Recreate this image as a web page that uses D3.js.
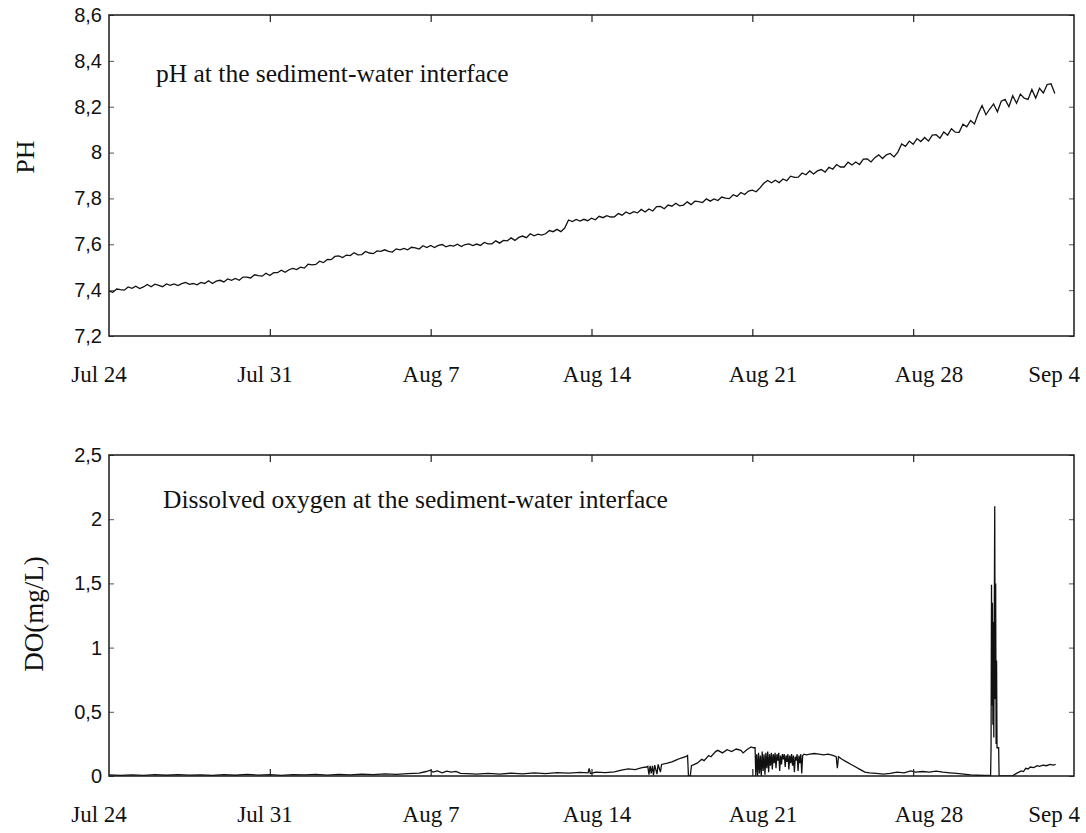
<!DOCTYPE html>
<html>
<head>
<meta charset="utf-8">
<script src="https://cdn.jsdelivr.net/npm/d3@7"></script>
<style>
  body { margin: 0; background: #fff; }
  svg { display: block; background: #fff; }
</style>
</head>
<body>
<svg id="chart" width="1086" height="833"></svg>
<script>
// ---- Data -------------------------------------------------------------
const dateTicks = ["Jul 24", "Jul 31", "Aug 7", "Aug 14", "Aug 21", "Aug 28", "Sep 4"];
const domainStart = "Jul 24";
const domainEnd = "Sep 4";

const phTicks = [7.2, 7.4, 7.6, 7.8, 8.0, 8.2, 8.4, 8.6];
const phTickLabels = ["7,2", "7,4", "7,6", "7,8", "8", "8,2", "8,4", "8,6"];
const doTicks = [0, 0.5, 1, 1.5, 2, 2.5];
const doTickLabels = ["0", "0,5", "1", "1,5", "2", "2,5"];

const phTitle = "pH at the sediment-water interface";
const doTitle = "Dissolved oxygen at the sediment-water interface";
const phAxisTitle = "PH";
const doAxisTitle = "DO(mg/L)";

// pH logged every 4 hours from Jul 24, one row per day
const phStepHours = 4;
const phValues = [
  7.396, 7.391, 7.405, 7.402, 7.400, 7.414,
  7.408, 7.417, 7.407, 7.414, 7.425, 7.415,
  7.426, 7.421, 7.415, 7.427, 7.421, 7.427,
  7.420, 7.428, 7.434, 7.425, 7.429, 7.423,
  7.434, 7.429, 7.441, 7.429, 7.439, 7.443,
  7.436, 7.449, 7.443, 7.451, 7.443, 7.457,
  7.457, 7.453, 7.467, 7.463, 7.461, 7.474,
  7.464, 7.476, 7.476, 7.487, 7.478, 7.489,
  7.495, 7.490, 7.500, 7.496, 7.513, 7.510,
  7.512, 7.526, 7.520, 7.534, 7.533, 7.547,
  7.549, 7.542, 7.553, 7.551, 7.563, 7.554,
  7.555, 7.569, 7.562, 7.559, 7.571, 7.569,
  7.576, 7.569, 7.566, 7.580, 7.576, 7.582,
  7.576, 7.587, 7.584, 7.579, 7.594, 7.586,
  7.595, 7.586, 7.595, 7.599, 7.589, 7.595,
  7.592, 7.600, 7.590, 7.599, 7.602, 7.594,
  7.601, 7.595, 7.608, 7.602, 7.602, 7.615,
  7.605, 7.617, 7.615, 7.628, 7.617, 7.630,
  7.636, 7.629, 7.646, 7.637, 7.644, 7.640,
  7.646, 7.660, 7.655, 7.665, 7.655, 7.671,
  7.706, 7.699, 7.708, 7.701, 7.709, 7.703,
  7.714, 7.707, 7.722, 7.716, 7.725, 7.719,
  7.720, 7.734, 7.727, 7.741, 7.733, 7.742,
  7.737, 7.752, 7.741, 7.754, 7.745, 7.764,
  7.765, 7.755, 7.771, 7.766, 7.779, 7.768,
  7.771, 7.785, 7.773, 7.788, 7.786, 7.782,
  7.798, 7.788, 7.798, 7.791, 7.806, 7.801,
  7.799, 7.816, 7.809, 7.826, 7.817, 7.832,
  7.836, 7.829, 7.846, 7.866, 7.878, 7.868,
  7.879, 7.869, 7.885, 7.877, 7.897, 7.892,
  7.893, 7.911, 7.903, 7.920, 7.907, 7.920,
  7.926, 7.915, 7.936, 7.928, 7.948, 7.937,
  7.937, 7.958, 7.946, 7.959, 7.948, 7.971,
  7.972, 7.959, 7.978, 7.990, 7.974, 7.990,
  7.996, 7.981, 8.002, 8.038, 8.027, 8.050,
  8.036, 8.061, 8.048, 8.066, 8.050, 8.076,
  8.078, 8.063, 8.090, 8.076, 8.104, 8.089,
  8.088, 8.124, 8.112, 8.140, 8.125, 8.170,
  8.205, 8.165, 8.190, 8.212, 8.178, 8.224,
  8.232, 8.200, 8.248, 8.215, 8.255, 8.237,
  8.232, 8.275, 8.238, 8.280, 8.260, 8.297,
  8.300, 8.258
];

// Dissolved oxygen: [days since Jul 24, mg/L]
const doSeries = [
  [0, 0.008], [0.5, 0.004], [1, 0.009], [1.5, 0.005], [2, 0.010], [2.5, 0.006],
  [3, 0.011], [3.5, 0.007], [4, 0.009], [4.5, 0.004], [5, 0.010], [5.5, 0.006],
  [6, 0.012], [6.5, 0.007], [7, 0.010], [7.5, 0.005], [8, 0.011], [8.5, 0.008],
  [9, 0.012], [9.5, 0.007], [10, 0.013], [10.5, 0.009], [11, 0.014], [11.5, 0.010],
  [12, 0.016], [12.5, 0.012], [13, 0.018], [13.5, 0.022], [13.8, 0.035], [14.0, 0.045],
  [14.1, 0.030], [14.3, 0.040], [14.5, 0.025], [14.7, 0.038], [14.9, 0.030], [15.1, 0.036],
  [15.3, 0.020], [15.6, 0.018], [16, 0.015], [16.5, 0.020], [17, 0.014], [17.5, 0.022],
  [18, 0.016], [18.5, 0.024], [19, 0.018], [19.5, 0.026], [20, 0.022], [20.5, 0.028],
  [20.85, 0.024], [20.9, 0.060], [20.95, 0.020], [21.2, 0.030], [21.6, 0.026], [22, 0.032],
  [22.3, 0.045], [22.6, 0.055], [22.9, 0.050], [23.2, 0.065], [23.4, 0.070],
  [23.45, 0.075], [23.5, 0.010], [23.55, 0.080], [23.6, 0.020], [23.65, 0.080], [23.7, 0.005],
  [23.75, 0.085], [23.85, 0.015], [23.9, 0.090], [24.0, 0.030], [24.05, 0.090],
  [24.3, 0.100], [24.5, 0.110], [24.7, 0.125], [24.9, 0.140], [25.1, 0.150], [25.18, 0.160],
  [25.22, 0.0], [25.3, 0.0], [25.35, 0.080],
  [25.6, 0.100], [25.8, 0.130], [25.9, 0.120], [26.1, 0.160], [26.2, 0.150], [26.4, 0.190], [26.5, 0.200],
  [26.7, 0.180], [26.9, 0.205], [27.1, 0.190], [27.3, 0.210], [27.5, 0.200], [27.6, 0.180],
  [27.8, 0.210], [27.95, 0.226], [28.05, 0.220], [28.12, 0.220],
  [28.15, 0.0], [28.19, 0.17], [28.23, 0.0], [28.27, 0.18], [28.31, 0.02], [28.35, 0.16],
  [28.39, 0.0], [28.43, 0.19], [28.47, 0.04], [28.51, 0.17], [28.55, 0.01], [28.59, 0.18],
  [28.63, 0.06], [28.67, 0.19], [28.71, 0.03], [28.75, 0.17], [28.79, 0.08], [28.83, 0.18],
  [28.87, 0.05], [28.91, 0.17], [28.95, 0.10], [28.99, 0.18], [29.03, 0.06], [29.07, 0.17],
  [29.11, 0.12], [29.15, 0.18], [29.19, 0.04], [29.23, 0.16], [29.27, 0.09], [29.31, 0.17],
  [29.35, 0.13], [29.39, 0.17], [29.43, 0.07], [29.47, 0.16], [29.51, 0.11], [29.55, 0.17],
  [29.59, 0.05], [29.63, 0.16], [29.67, 0.10], [29.71, 0.17], [29.75, 0.08], [29.79, 0.16],
  [29.83, 0.03], [29.87, 0.15], [29.91, 0.12], [29.95, 0.17], [29.99, 0.04], [30.03, 0.16],
  [30.07, 0.10], [30.11, 0.17], [30.15, 0.02], [30.19, 0.16], [30.25, 0.17], [30.35, 0.165],
  [30.5, 0.170], [30.7, 0.175], [30.9, 0.170], [31.1, 0.165], [31.3, 0.170], [31.5, 0.160],
  [31.65, 0.150], [31.7, 0.060], [31.75, 0.150],
  [31.9, 0.130], [32.1, 0.110], [32.3, 0.090], [32.5, 0.070], [32.7, 0.050], [32.9, 0.030],
  [33.1, 0.025], [33.4, 0.020], [33.7, 0.015], [34.0, 0.020], [34.3, 0.030], [34.6, 0.025],
  [34.9, 0.040], [35.1, 0.030], [35.4, 0.035], [35.7, 0.030], [36.0, 0.038], [36.3, 0.030],
  [36.6, 0.025], [36.9, 0.020], [37.2, 0.015], [37.5, 0.008], [37.8, 0.006], [38.1, 0.005],
  [38.3, 0.004],
  [38.37, 0.0], [38.39, 0.22], [38.41, 1.49], [38.43, 0.55], [38.45, 1.35], [38.47, 0.40],
  [38.49, 1.20], [38.51, 0.30], [38.55, 2.10], [38.57, 0.60], [38.59, 1.50], [38.61, 0.25],
  [38.63, 0.90], [38.65, 0.22], [38.69, 0.22], [38.72, 0.22], [38.74, 0.0],
  [38.9, 0.0], [39.1, 0.0], [39.3, 0.0], [39.5, 0.020], [39.7, 0.040], [39.8, 0.035],
  [39.9, 0.060], [40.0, 0.055], [40.1, 0.070], [40.25, 0.065], [40.4, 0.080], [40.5, 0.075],
  [40.65, 0.085], [40.8, 0.080], [40.95, 0.090], [41.1, 0.085], [41.2, 0.090]
];

// ---- Layout -----------------------------------------------------------
const W = 1086, H = 833;
const plotLeft = 109, plotRight = 1074;
const panels = [
  { top: 15,  bottom: 336, ticks: phTicks, tickLabels: phTickLabels, title: phTitle,
    axisTitle: phAxisTitle, titleX: 156, titleY: 82, axisTitleX: 34, axisTitleY: 157, axisTitleSize: 26 },
  { top: 455, bottom: 776, ticks: doTicks, tickLabels: doTickLabels, title: doTitle,
    axisTitle: doAxisTitle, titleX: 163, titleY: 508, axisTitleX: 43, axisTitleY: 614, axisTitleSize: 27 }
];

const parseDay = d3.timeParse("%b %d %Y");
const toDate = s => parseDay(s + " 2012");
const t0 = toDate(domainStart);
const tickDateObjs = dateTicks.map(toDate);

const x = d3.scaleTime()
  .domain([t0, toDate(domainEnd)])
  .range([plotLeft, plotRight]);

// tick labels sit on a slightly wider pitch than the tick marks
const xLabel = d3.scaleTime()
  .domain([t0, toDate("Aug 28")])
  .range([99, 929]);

const phData = phValues.map((v, i) => ({ t: d3.timeHour.offset(t0, i * phStepHours), v }));
const doData = doSeries.map(([d, v]) => ({ t: new Date(t0.getTime() + d * 864e5), v }));
const seriesData = [phData, doData];

const svg = d3.select("#chart");
svg.append("rect").attr("width", W).attr("height", H).attr("fill", "#fff");

panels.forEach((p, idx) => {
  const y = d3.scaleLinear()
    .domain([p.ticks[0], p.ticks[p.ticks.length - 1]])
    .range([p.bottom, p.top]);

  const g = svg.append("g");
  const clipId = "clip" + idx;
  svg.append("clipPath").attr("id", clipId)
    .append("rect")
    .attr("x", plotLeft).attr("y", p.top)
    .attr("width", plotRight - plotLeft).attr("height", p.bottom - p.top);

  // data line
  const line = d3.line().x(d => x(d.t)).y(d => y(d.v));
  g.append("path")
    .datum(seriesData[idx])
    .attr("clip-path", `url(#${clipId})`)
    .attr("fill", "none")
    .attr("stroke", "#111")
    .attr("stroke-width", 1.3)
    .attr("d", line);

  // inward tick marks on all four sides
  const innerDates = tickDateObjs.slice(1, -1);
  g.append("g")
    .attr("transform", `translate(0,${p.bottom})`)
    .call(d3.axisBottom(x).tickValues(innerDates).tickSize(-7).tickFormat(""))
    .call(a => a.select(".domain").remove())
    .call(a => a.selectAll("line").attr("stroke", "#222").attr("stroke-width", 1.2));
  g.append("g")
    .attr("transform", `translate(0,${p.top})`)
    .call(d3.axisTop(x).tickValues(innerDates).tickSize(-7).tickFormat(""))
    .call(a => a.select(".domain").remove())
    .call(a => a.selectAll("line").attr("stroke", "#222").attr("stroke-width", 1.2));

  const yLeft = g.append("g")
    .attr("transform", `translate(${plotLeft},0)`)
    .call(d3.axisLeft(y).tickValues(p.ticks).tickSize(-5).tickPadding(7)
      .tickFormat((d, i) => p.tickLabels[i]))
    .call(a => a.select(".domain").remove());
  yLeft.selectAll("line").attr("stroke", "#555").attr("stroke-width", 1);
  yLeft.selectAll("text")
    .attr("font-family", "'Liberation Sans', Arial, sans-serif")
    .attr("font-size", 20)
    .attr("fill", "#111");

  g.append("g")
    .attr("transform", `translate(${plotRight},0)`)
    .call(d3.axisRight(y).tickValues(p.ticks).tickSize(-5).tickFormat(""))
    .call(a => a.select(".domain").remove())
    .call(a => a.selectAll("line").attr("stroke", "#555").attr("stroke-width", 1));

  // frame
  g.append("rect")
    .attr("x", plotLeft).attr("y", p.top)
    .attr("width", plotRight - plotLeft).attr("height", p.bottom - p.top)
    .attr("fill", "none").attr("stroke", "#1a1a1a").attr("stroke-width", 1.5);

  // date labels
  const labels = g.append("g")
    .attr("font-family", "'Liberation Serif', 'Times New Roman', serif")
    .attr("font-size", 23)
    .attr("fill", "#111");
  labels.selectAll("text")
    .data(tickDateObjs)
    .join("text")
    .attr("y", p.bottom + 46)
    .attr("text-anchor", "middle")
    .text((d, i) => dateTicks[i])
    .attr("x", function (d) {
      const half = this.getComputedTextLength() / 2;
      return Math.min(xLabel(d), W - 6 - half);
    });

  // panel caption inside the plot
  g.append("text")
    .attr("x", p.titleX).attr("y", p.titleY)
    .attr("font-family", "'Liberation Serif', 'Times New Roman', serif")
    .attr("font-size", 25.5)
    .attr("fill", "#111")
    .text(p.title);

  // y axis title
  g.append("text")
    .attr("transform", `translate(${p.axisTitleX},${p.axisTitleY}) rotate(-90)`)
    .attr("text-anchor", "middle")
    .attr("font-family", "'Liberation Serif', 'Times New Roman', serif")
    .attr("font-size", p.axisTitleSize)
    .attr("fill", "#111")
    .text(p.axisTitle);
});
</script>
</body>
</html>
